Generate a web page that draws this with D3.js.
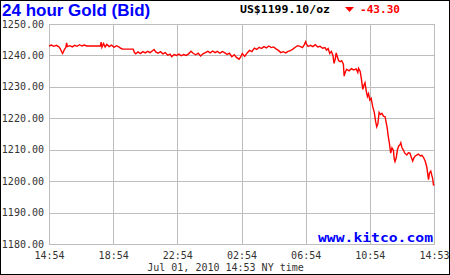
<!DOCTYPE html>
<html>
<head>
<meta charset="utf-8">
<script src="https://cdn.jsdelivr.net/npm/d3@7"></script>
<style>
  body { margin: 0; background: #fff; }
  svg { display: block; }
</style>
</head>
<body>
<svg id="chart" width="450" height="275"></svg>
<script>
// hours since 14:54 (Jun 30) and bid price
const hrs = [
  0.00, 0.15, 0.30, 0.45, 0.60, 0.70, 0.80, 0.85, 0.95, 1.05, 1.10, 1.15, 1.30, 1.45, 1.60, 1.75, 1.90, 2.05, 2.20, 2.35,
  3.20, 3.25, 3.30, 3.40, 3.50, 3.60, 3.75, 3.90, 4.05, 4.20, 4.35, 4.50, 4.60, 5.25, 5.32, 5.40, 5.55, 5.70, 5.85, 6.00,
  6.15, 6.30, 6.45, 6.55, 6.65, 6.80, 6.95, 7.10, 7.25, 7.40, 7.55, 7.65, 7.80, 7.95, 8.10, 8.25, 8.40, 8.55, 8.70, 8.85,
  9.00, 9.15, 9.30, 9.45, 9.60, 9.75, 9.90, 10.05, 10.20, 10.35, 10.50, 10.65, 10.80, 10.95, 11.10, 11.25, 11.40, 11.55, 11.70, 11.85,
  11.95, 12.05, 12.20, 12.35, 12.50, 12.65, 12.80, 12.95, 13.10, 13.25, 13.40, 13.55, 13.70, 13.85, 14.00, 14.15, 14.30, 14.45, 14.60, 14.75,
  14.90, 15.05, 15.20, 15.35, 15.50, 15.65, 15.80, 15.90, 16.00, 16.05, 16.15, 16.30, 16.45, 16.60, 16.75, 16.90, 17.05, 17.20, 17.30, 17.40,
  17.50, 17.60, 17.70, 17.77, 17.85, 17.90, 17.95, 18.05, 18.15, 18.25, 18.35, 18.40, 18.48, 18.56, 18.70, 18.85, 19.00, 19.15, 19.25, 19.30,
  19.40, 19.48, 19.56, 19.63, 19.70, 19.78, 19.85, 19.92, 20.00, 20.08, 20.18, 20.28, 20.36, 20.43, 20.50, 20.58, 20.66, 20.75, 20.85, 20.95,
  21.02, 21.08, 21.15, 21.22, 21.30, 21.38, 21.47, 21.52, 21.57, 21.65, 21.72, 21.80, 21.88, 21.93, 22.00, 22.09, 22.18, 22.30, 22.40, 22.50,
  22.58, 22.67, 22.75, 22.82, 22.92, 23.03, 23.15, 23.25, 23.34, 23.45, 23.55, 23.62, 23.66, 23.72, 23.80, 23.86, 23.92, 23.97, 24.00
]
const bid = [
  1243.0, 1243.3, 1242.9, 1243.2, 1242.8, 1242.2, 1241.0, 1240.6, 1241.8, 1242.6, 1244.0, 1242.8, 1243.1, 1242.7, 1243.2, 1242.9, 1243.4, 1243.0, 1243.3, 1243.0,
  1243.0, 1244.2, 1242.6, 1243.8, 1242.7, 1243.5, 1242.8, 1243.3, 1242.6, 1243.1, 1242.7, 1242.2, 1242.0, 1242.0, 1241.0, 1240.5, 1241.1, 1240.6, 1241.2, 1240.8,
  1241.3, 1240.9, 1241.5, 1241.9, 1241.1, 1240.7, 1241.2, 1240.5, 1240.9, 1240.1, 1240.4, 1239.6, 1240.3, 1240.0, 1240.4, 1239.9, 1240.3, 1240.0, 1240.5, 1241.3,
  1240.6, 1240.2, 1240.7, 1239.8, 1240.5, 1240.9, 1241.3, 1240.8, 1241.4, 1240.9, 1241.3, 1240.7, 1241.2, 1240.9, 1240.3, 1240.7, 1239.6, 1240.2, 1239.3, 1238.8,
  1239.5, 1240.6, 1239.7, 1240.8, 1241.6, 1241.2, 1242.3, 1241.9, 1242.6, 1242.2, 1242.8, 1242.4, 1243.0, 1242.5, 1242.7, 1242.1, 1241.6, 1240.9, 1241.2, 1240.8,
  1241.3, 1241.5, 1242.0, 1242.6, 1243.1, 1242.9, 1242.5, 1243.3, 1244.4, 1243.6, 1242.9, 1243.2, 1242.8, 1243.4, 1242.7, 1242.9, 1242.3, 1242.5, 1241.7, 1242.2,
  1240.6, 1241.3, 1240.0, 1237.5, 1239.0, 1240.8, 1240.0, 1238.4, 1238.0, 1238.3, 1237.2, 1233.4, 1234.8, 1235.6, 1235.1, 1235.8, 1235.4, 1235.7, 1234.6, 1235.9,
  1234.9, 1232.3, 1229.2, 1230.5, 1231.3, 1228.6, 1226.9, 1227.8, 1225.8, 1226.4, 1223.7, 1221.8, 1219.0, 1217.3, 1218.2, 1221.9, 1221.2, 1221.6, 1220.7, 1220.5,
  1218.6, 1217.0, 1214.2, 1212.0, 1208.9, 1210.6, 1209.8, 1207.1, 1206.2, 1207.5, 1210.0, 1211.2, 1211.6, 1212.2, 1210.7, 1209.9, 1208.9, 1208.3, 1209.0, 1208.9,
  1207.7, 1206.4, 1207.4, 1207.9, 1208.3, 1208.6, 1208.0, 1208.2, 1207.6, 1206.4, 1204.5, 1201.8, 1200.5, 1202.6, 1203.2, 1201.9, 1200.8, 1198.6, 1199.1
]

const xTicks = [0, 4, 8, 12, 16, 20, 24]
const xLabels = ['14:54', '18:54', '22:54', '02:54', '06:54', '10:54', '14:53']
const yTicks = [1180, 1190, 1200, 1210, 1220, 1230, 1240, 1250]

const title = '24 hour Gold (Bid)'
const price = 'US$1199.10/oz'
const change = '-43.30'
const footer = 'Jul 01, 2010 14:53 NY time'
const credit = 'www.kitco.com'

var svg = d3.select('#chart')
var mono = 'DejaVu Sans Mono, monospace'

var x = d3.scaleLinear().domain([0, 24]).range([49, 434])
var y = d3.scaleLinear().domain([1180, 1250]).range([244, 24])

// grid
var grid = svg.append('g').attr('shape-rendering', 'crispEdges').attr('stroke', '#bdbdbd')
grid.selectAll('.vg').data(xTicks).enter().append('line')
  .attr('x1', d => Math.round(x(d)) + 0.5).attr('x2', d => Math.round(x(d)) + 0.5)
  .attr('y1', y(1250)).attr('y2', y(1180))
grid.selectAll('.hg').data(yTicks).enter().append('line')
  .attr('x1', x(0)).attr('x2', x(24) + 1)
  .attr('y1', d => Math.round(y(d)) + 0.5).attr('y2', d => Math.round(y(d)) + 0.5)

// y labels
svg.selectAll('.yl').data(yTicks).enter().append('text')
  .attr('x', 44).attr('y', d => y(d) + 3.5)
  .attr('text-anchor', 'end')
  .attr('font-family', mono).attr('font-size', 10).attr('fill', '#333')
  .text(d => d.toFixed(2))

// x labels
svg.selectAll('.xl').data(xTicks).enter().append('text')
  .attr('x', d => x(d) + 0.5).attr('y', 259)
  .attr('text-anchor', 'middle')
  .attr('font-family', mono).attr('font-size', 10).attr('fill', '#333')
  .text((d, i) => xLabels[i])

svg.append('text')
  .attr('x', 225.5).attr('y', 271)
  .attr('text-anchor', 'middle')
  .attr('font-family', mono).attr('font-size', 10).attr('fill', '#333')
  .text(footer)

// price line
var line = d3.line()
  .x((d, i) => x(hrs[i]))
  .y(d => y(d))

svg.append('path')
  .datum(bid)
  .attr('d', line)
  .attr('fill', 'none')
  .attr('stroke', '#ff0000')
  .attr('stroke-width', 1.4)
  .attr('stroke-linejoin', 'miter')

// header
svg.append('text')
  .attr('x', 2).attr('y', 16)
  .attr('font-family', 'Liberation Sans, Arial, sans-serif')
  .attr('font-weight', 'bold').attr('font-size', 17).attr('fill', '#0000ff')
  .text(title)

svg.append('text')
  .attr('x', 240).attr('y', 12.5)
  .attr('font-family', mono).attr('font-weight', 'bold').attr('font-size', 10.5)
  .attr('textLength', 90).attr('lengthAdjust', 'spacingAndGlyphs')
  .attr('fill', '#000')
  .text(price)

svg.append('path')
  .attr('d', 'M345,7 L354,7 L349.5,12 Z')
  .attr('fill', '#ff0000')

svg.append('text')
  .attr('x', 360).attr('y', 12.5)
  .attr('font-family', mono).attr('font-weight', 'bold').attr('font-size', 10.5)
  .attr('textLength', 40).attr('lengthAdjust', 'spacingAndGlyphs')
  .attr('fill', '#ff0000')
  .text(change)

svg.append('text')
  .attr('x', 318).attr('y', 242)
  .attr('font-family', mono).attr('font-weight', 'bold').attr('font-size', 11.5)
  .attr('textLength', 115).attr('lengthAdjust', 'spacingAndGlyphs')
  .attr('fill', '#0000ff')
  .text(credit)

// outer frame
svg.append('rect')
  .attr('x', 0.5).attr('y', 0.5).attr('width', 449).attr('height', 274)
  .attr('fill', 'none').attr('stroke', '#000').attr('shape-rendering', 'crispEdges')
</script>
</body>
</html>
